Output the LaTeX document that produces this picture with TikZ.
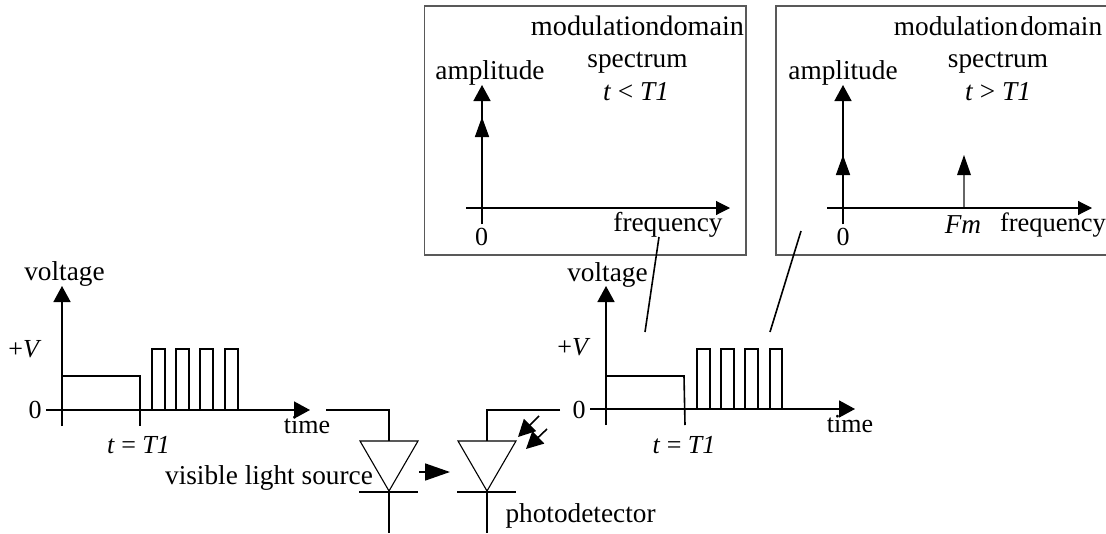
\documentclass[tikz,border=0pt]{standalone}
\usepackage{fontspec}
\setmainfont{Liberation Serif}
\usetikzlibrary{arrows.meta}
\tikzset{
  lbl/.style={anchor=base,inner sep=0pt,outer sep=0pt,font=\fontsize{27.3}{29}\selectfont},
  lbs/.style={anchor=base,inner sep=0pt,outer sep=0pt,font=\fontsize{26}{28}\selectfont},
  lbm/.style={anchor=base,inner sep=0pt,outer sep=0pt,font=\fontsize{28.2}{30}\selectfont},
  ln/.style={line width=1.6pt,draw=black},
  thin ln/.style={line width=1.1pt,draw=black},
  bigtip/.style={-{Triangle[length=16pt,width=17pt,fill=black]}},
  midtip/.style={-{Triangle[length=20pt,width=14pt,fill=black]}},
  smalltip/.style={-{Triangle[length=14pt,width=14pt,fill=black]}},
  sensetip/.style={-{Triangle[length=17pt,width=17pt,fill=black]}},
  panel/.style={line width=1.2pt,draw=black!65,fill=none},
  wire/.style={line width=1.6pt,draw=black,line join=miter},
  diode/.style={line width=1.1pt,draw=black,line join=miter},
}
\begin{document}
\begin{tikzpicture}[x=1pt,y=-1pt]
\useasboundingbox (0,0) rectangle (1106,533);
% left plot
\coordinate (la0) at (62,426); \coordinate (la1) at (62,286);
\coordinate (lb0) at (46,410); \coordinate (lb1) at (310,410);
\draw[ln,bigtip] (la0) -- (la1);
\draw[ln,bigtip] (lb0) -- (lb1);
\draw[ln] (62,376) -- (140,376) -- (140,426);
\foreach \a/\b in {152/165,176/189,200/213,225/238}
  \draw[ln] (\a,410) -- (\a,349) -- (\b,349) -- (\b,410);
\node[lbl] (lv) at (64.5,280) {voltage};
\node[lbs] (lp) at (25,357) {+\textit{V}};
\node[lbs] (lz) at (35,418) {0};
\node[lbs] (lt) at (138.5,453) {\textit{t} = \textit{T1}};
\node[lbs] (ltime) at (307,433) {time};
% right plot
\coordinate (ra0) at (606,425); \coordinate (ra1) at (606,286);
\coordinate (rb0) at (590,409); \coordinate (rb1) at (855,409);
\draw[ln,bigtip] (ra0) -- (ra1);
\draw[ln,bigtip] (rb0) -- (rb1);
\draw[ln] (606,376) -- (684,376) -- (685,425);
\foreach \a/\b in {697/710,721/734,745/758,770/782}
  \draw[ln] (\a,409) -- (\a,349) -- (\b,349) -- (\b,409);
\node[lbl] (rv) at (607.5,281) {voltage};
\node[lbs] (rp) at (574,355) {+\textit{V}};
\node[lbs] (rz) at (579,418) {0};
\node[lbs] (rt) at (684,453) {\textit{t} = \textit{T1}};
\node[lbs] (rtime) at (850,432) {time};
% diodes
\draw[wire] (326,410) -- (389,410) -- (389,441);
\draw[diode] (360,441) -- (418,441) -- (389,491) -- cycle;
\draw[wire] (359,492) -- (418,492);
\draw[wire] (389,492) -- (389,533);
\draw[wire] (560,410) -- (487,410) -- (487,441);
\draw[diode] (458,441) -- (516,441) -- (487,491) -- cycle;
\draw[wire] (457,492) -- (516,492);
\draw[wire] (487,492) -- (487,533);
\draw[ln,-{Triangle[length=25pt,width=17pt,fill=black]}] (419,472) -- (450,472);
\draw[ln,sensetip] (539,416) -- (518,437);
\draw[ln,sensetip] (547,429) -- (526,449);
\node[lbl] (vls) at (269,484) {visible light source};
\node[lbl,anchor=base west] (pd) at (505.5,522.5) {photodetector};
% panel 1
\draw[panel] (424.5,6) rectangle (746,255);
\draw[ln,bigtip] (482,224) -- (482,85);
\draw[ln,midtip] (482,224) -- (482,117);
\draw[thin ln,smalltip] (466,208) -- (730,208);
\node[lbl] (a1) at (490,79) {amplitude};
\node[lbm] (m1) at (637.5,35) {modulationdomain};
\node[lbl] (s1) at (637.5,67) {spectrum};
\node[lbl] (c1) at (636,100) {\textit{t} < \textit{T1}};
\node[lbl] (f1) at (668,231) {frequency};
\node[lbs] (z1) at (481.5,245) {0};
% panel 2
\draw[panel] (1106,6) -- (776,6) -- (776,255) -- (1106,255);
\draw[ln,bigtip] (843,224) -- (843,85);
\draw[ln,midtip] (843,224) -- (843,155);
\draw[line width=1.3pt,draw=black!60] (964,208) -- (964,175);
\fill (964,155) -- (971,175) -- (957,175) -- cycle;
\draw[thin ln,smalltip] (827,208) -- (1092,208);
\node[lbl] (a2) at (843,79) {amplitude};
\node[lbl] (m2) at (998,35) {modulation\kern2pt domain};
\node[lbl] (s2) at (998,67) {spectrum};
\node[lbl] (c2) at (998,100) {\textit{t} > \textit{T1}};
\node[lbl] (fm) at (963,233) {\textit{Fm}};
\node[lbl,font=\fontsize{26.5}{28}\selectfont] (f2) at (1053,231) {frequency};
\node[lbs] (z2) at (843,245) {0};
% leaders
\coordinate (l1a) at (659,237); \coordinate (l1b) at (645,332);
\coordinate (l2a) at (801,231); \coordinate (l2b) at (770,332);
\draw[ln] (l1a) -- (l1b);
\draw[ln] (l2a) -- (l2b);
\end{tikzpicture}
\end{document}
